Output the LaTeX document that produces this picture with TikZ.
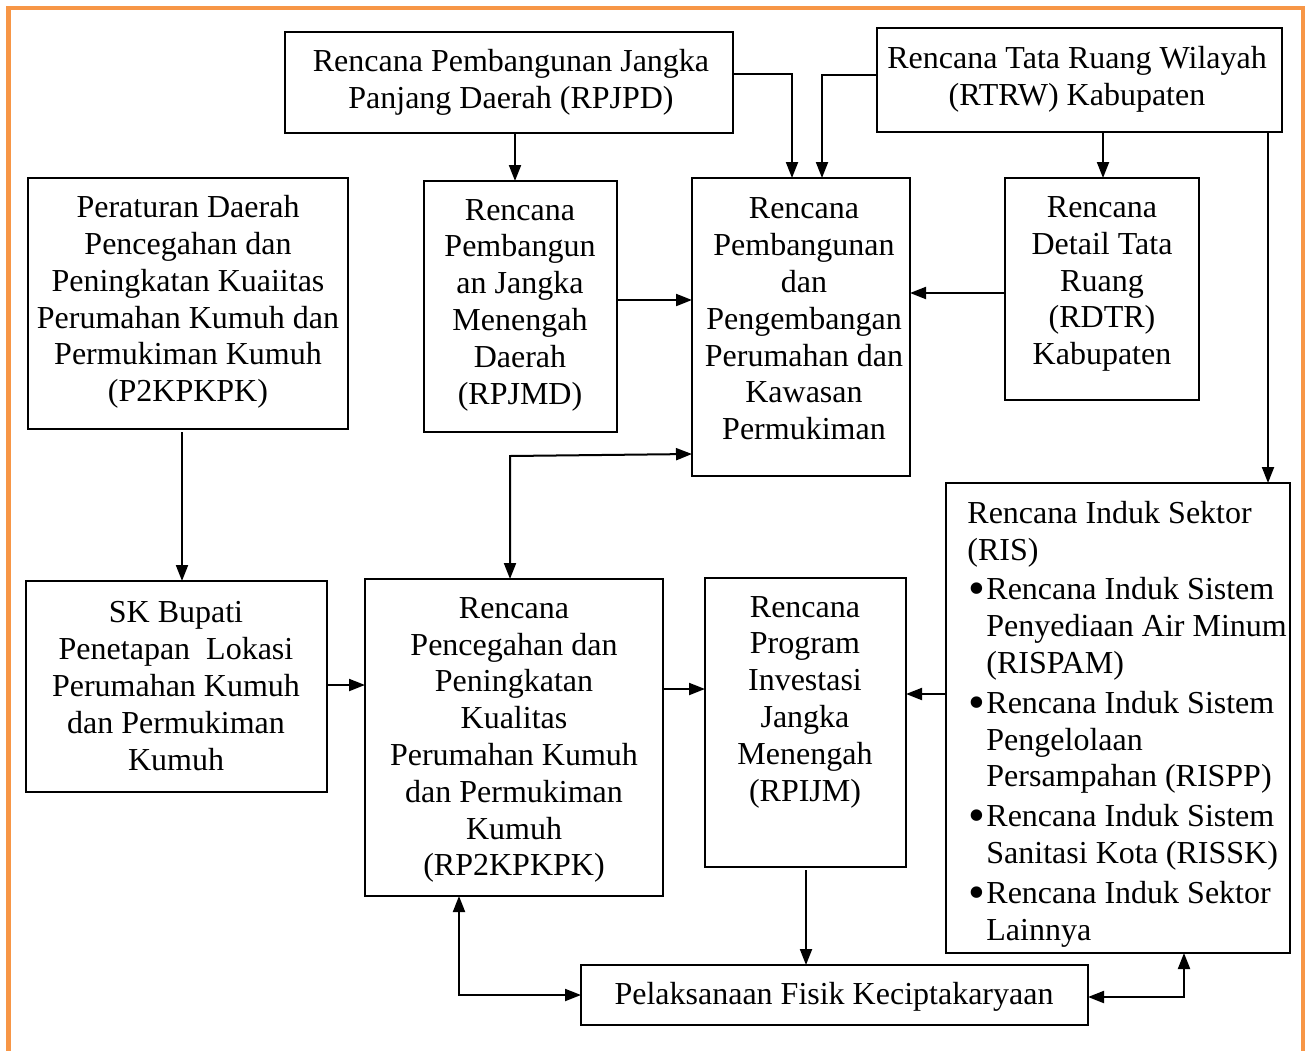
\documentclass[tikz,border=0pt]{standalone}
\usepackage{fontspec}
\usepackage{graphicx}
\setmainfont{Liberation Serif}
\usetikzlibrary{arrows.meta}
\definecolor{borderorange}{HTML}{F79646}
\newcommand{\risbullet}{\makebox[9.5pt][l]{\hspace{0.4pt}\raisebox{-2.5pt}{\scalebox{1.5}{•}}}}
\begin{document}
\begin{tikzpicture}[x=0.5pt,y=-0.5pt,
  box/.style={draw=black, line width=0.75pt, inner sep=0pt, outer sep=0pt},
  txt/.style={inner sep=0pt, align=center, font=\fontsize{16}{18.4}\selectfont},
  arr/.style={-{Triangle[length=8pt,width=6pt]}, line width=1pt},
  darr/.style={{Triangle[length=8pt,width=6pt]}-{Triangle[length=8pt,width=6pt]}, line width=1pt}]
\useasboundingbox (0,0) rectangle (1306,1050);
\draw[borderorange, line width=2.4pt] (8.5,1060) -- (8.5,8) -- (1303,8) -- (1303,1060);

% boxes
\node[box, minimum width=224pt, minimum height=50.5pt] (rpjpd) at (509,82.5) {};
\node[box, minimum width=202.5pt, minimum height=52pt] (rtrw) at (1079.5,80) {};
\node[box, minimum width=160pt, minimum height=125.5pt] (pd) at (188,303.5) {};
\node[box, minimum width=96.5pt, minimum height=125.5pt] (rpjmd) at (520.5,306.5) {};
\node[box, minimum width=109pt, minimum height=149pt] (pkp) at (801,327) {};
\node[box, minimum width=97pt, minimum height=111pt] (rdtr) at (1102,289) {};
\node[box, minimum width=150.5pt, minimum height=105.5pt] (sk) at (176.5,686.5) {};
\node[box, minimum width=149pt, minimum height=158.5pt] (rp2) at (514,737.5) {};
\node[box, minimum width=100.5pt, minimum height=144.5pt] (rpijm) at (805.5,722.5) {};
\node[box, minimum width=172pt, minimum height=235pt] (ris) at (1118,718) {};
\node[box, minimum width=253.5pt, minimum height=30pt] (pel) at (834.5,995) {};

% texts
\node[txt] (t-rpjpd) at (511,82) {Rencana Pembangunan Jangka\\Panjang Daerah (RPJPD)};
\node[txt] (t-rtrw) at (1077,79) {Rencana Tata Ruang Wilayah\\(RTRW) Kabupaten};
\node[txt] (t-pd) at (188,302) {Peraturan Daerah\\Pencegahan dan\\Peningkatan Kuaiitas\\Perumahan Kumuh dan\\Permukiman Kumuh\\(P2KPKPK)};
\node[txt] (t-rpjmd) at (520,305) {Rencana\\Pembangun\\an Jangka\\Menengah\\Daerah\\(RPJMD)};
\node[txt] (t-pkp) at (804,319) {Rencana\\Pembangunan\\dan\\Pengembangan\\Perumahan dan\\Kawasan\\Permukiman};
\node[txt] (t-rdtr) at (1102,284) {Rencana\\Detail Tata\\Ruang\\(RDTR)\\Kabupaten};
\node[txt] (t-sk) at (176,686) {SK Bupati\\Penetapan\ \ Lokasi\\Perumahan Kumuh\\dan Permukiman\\Kumuh};
\node[txt] (t-rp2) at (514,740) {Rencana\\Pencegahan dan\\Peningkatan\\Kualitas\\Perumahan Kumuh\\dan Permukiman\\Kumuh\\(RP2KPKPK)};
\node[txt] (t-rpijm) at (805,702) {Rencana\\Program\\Investasi\\Jangka\\Menengah\\(RPIJM)};
\node[txt, align=left, anchor=west] (t-ris) at (967,724) {Rencana Induk Sektor\\(RIS)\\[1.5pt]
\risbullet Rencana Induk Sistem\\
\hspace*{9.5pt}Penyediaan Air Minum\\
\hspace*{9.5pt}(RISPAM)\\[1.5pt]
\risbullet Rencana Induk Sistem\\
\hspace*{9.5pt}Pengelolaan\\
\hspace*{9.5pt}Persampahan (RISPP)\\[1.5pt]
\risbullet Rencana Induk Sistem\\
\hspace*{9.5pt}Sanitasi Kota (RISSK)\\[1.5pt]
\risbullet Rencana Induk Sektor\\
\hspace*{9.5pt}Lainnya};
\node[txt] (t-pel) at (834,997) {Pelaksanaan Fisik Keciptakaryaan};

% connectors
\draw[arr] (515,0 |- rpjpd.south) -- (515,0 |- rpjmd.north);
\draw[arr] (rpjpd.east |- 0,74) -- (792,74) -- (792,0 |- pkp.north);
\draw[arr] (rtrw.west |- 0,75) -- (822,75) -- (822,0 |- pkp.north);
\draw[arr] (1103,0 |- rtrw.south) -- (1103,0 |- rdtr.north);
\draw[arr] (1268,0 |- rtrw.south) -- (1268,0 |- ris.north);
\draw[arr] (rpjmd.east |- 0,300) -- (pkp.west |- 0,300);
\draw[arr] (rdtr.west |- 0,293) -- (pkp.east |- 0,293);
\draw[darr] (pkp.west |- 0,454) -- (510,456) -- (510,0 |- rp2.north);
\draw[arr] (182,432) -- (182,0 |- sk.north);
\draw[arr] (sk.east |- 0,685) -- (rp2.west |- 0,685);
\draw[arr] (rp2.east |- 0,689) -- (rpijm.west |- 0,689);
\draw[arr] (ris.west |- 0,694) -- (rpijm.east |- 0,694);
\draw[arr] (806,870) -- (806,0 |- pel.north);
\draw[darr] (459,0 |- rp2.south) -- (459,995) -- (pel.west |- 0,995);
\draw[darr] (pel.east |- 0,997) -- (1184,997) -- (1184,0 |- ris.south);
\end{tikzpicture}
\end{document}
